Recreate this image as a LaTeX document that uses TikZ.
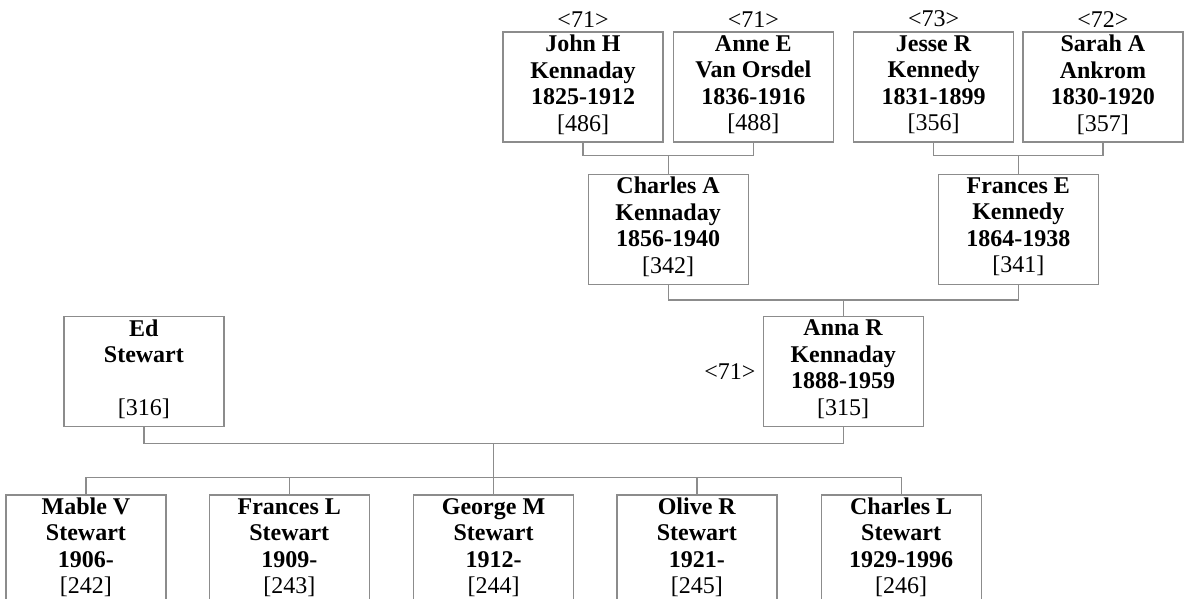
\documentclass[tikz,border=0pt]{standalone}
\usepackage{fontspec}
\setmainfont{Liberation Serif}
\usetikzlibrary{positioning,calc}
\definecolor{LineGray}{RGB}{140,140,140}
\tikzset{
  person/.style={draw=LineGray, line width=1.3pt, minimum width=160pt,
    minimum height=110pt, inner sep=0pt, align=center, text depth=8pt,
    font=\fontsize{24}{26.5}\selectfont},
  age/.style={inner sep=0pt, font=\fontsize{24}{26.5}\selectfont},
  link/.style={draw=LineGray, line width=1.3pt}
}
\newcommand{\person}[4]{\textbf{#1}\\\textbf{#2}\\\textbf{#3}\\{}[#4]}

\begin{document}
\begin{tikzpicture}[x=1pt,y=1pt]
  \useasboundingbox (0,0) rectangle (1186,-599);
  % grandparents
  \node[person] (john) at (583,-87) {\person{John H}{Kennaday}{1825-1912}{486}};
  \node[person, right=9pt of john] (anne) {\person{Anne E}{Van Orsdel}{1836-1916}{488}};
  \node[person, right=19pt of anne] (jesse) {\person{Jesse R}{Kennedy}{1831-1899}{356}};
  \node[person, right=8pt of jesse] (sarah) {\person{Sarah A}{Ankrom}{1830-1920}{357}};
  \node[age, above=4pt of john] (johnage) {<71>};
  \node[age, above=4pt of anne] (anneage) {<71>};
  \node[age, above=4pt of jesse] (jesseage) {<73>};
  \node[age, above=4pt of sarah] (sarahage) {<72>};
  % parents
  \node[person, below=31pt of $(john.south)!0.5!(anne.south)$] (charlesA) {\person{Charles A}{Kennaday}{1856-1940}{342}};
  \node[person, below=31pt of $(jesse.south)!0.5!(sarah.south)$] (francesE) {\person{Frances E}{Kennedy}{1864-1938}{341}};
  % couple
  \node[person, below=31pt of $(charlesA.south)!0.5!(francesE.south)$] (anna) {\person{Anna R}{Kennaday}{1888-1959}{315}};
  \node[age, left=7pt of anna] (annaage) {<71>};
  \node[person, left=538pt of anna] (ed) {\textbf{Ed}\\\textbf{Stewart}\\\mbox{}\\{}[316]};
  % children
  \node[person, below=67pt of $(ed.south)!0.5!(anna.south)$] (george) {\person{George M}{Stewart}{1912-}{244}};
  \node[person, left=43pt of george] (francesL) {\person{Frances L}{Stewart}{1909-}{243}};
  \node[person, left=42pt of francesL] (mable) {\person{Mable V}{Stewart}{1906-}{242}};
  \node[person, right=42pt of george] (olive) {\person{Olive R}{Stewart}{1921-}{245}};
  \node[person, right=43pt of olive] (charlesL) {\person{Charles L}{Stewart}{1929-1996}{246}};
  % connectors
  \coordinate (ja) at ($(john.south)!0.5!(anne.south)+(0,-13)$);
  \coordinate (js) at ($(jesse.south)!0.5!(sarah.south)+(0,-13)$);
  \coordinate (cf) at ($(charlesA.south)!0.5!(francesE.south)+(0,-15)$);
  \coordinate (ea) at ($(ed.south)!0.5!(anna.south)+(0,-16)$);
  \coordinate (bar) at ($(george.north)+(0,17)$);
  \draw[link] (john.south) |- (ja) -| (anne.south);
  \draw[link] (ja) -- (charlesA.north);
  \draw[link] (jesse.south) |- (js) -| (sarah.south);
  \draw[link] (js) -- (francesE.north);
  \draw[link] (charlesA.south) |- (cf) -| (francesE.south);
  \draw[link] (cf) -- (anna.north);
  \draw[link] (ed.south) |- (ea) -| (anna.south);
  \draw[link] (ea) -- (george.north);
  \foreach \k in {mable,francesL,olive,charlesL}
    \draw[link] (\k.north) |- (bar);
\end{tikzpicture}
\end{document}
